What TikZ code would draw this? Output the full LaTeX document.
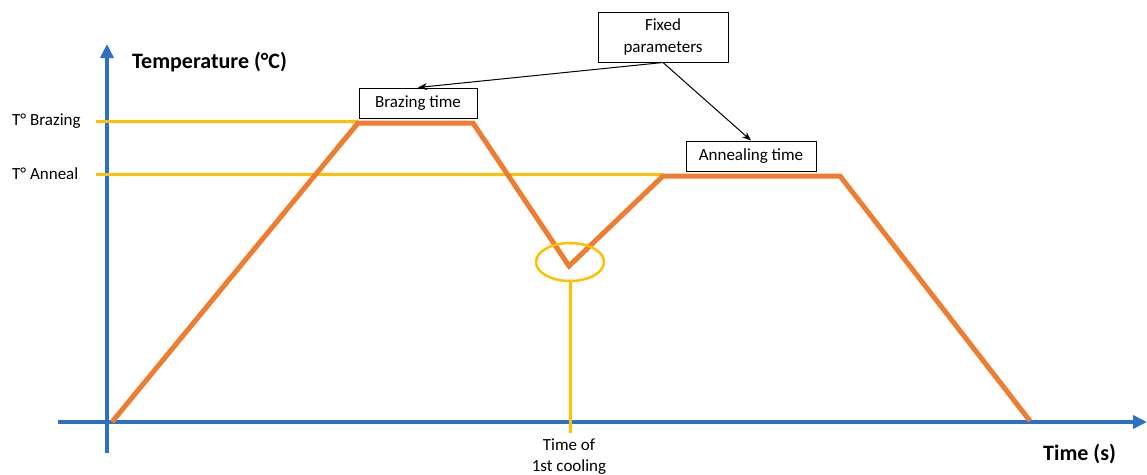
\documentclass[tikz,border=0pt]{standalone}
\usepackage{fontspec}
\setmainfont{Carlito}
\usetikzlibrary{arrows.meta,shapes.geometric}
\definecolor{axisblue}{RGB}{46,112,196}
\definecolor{curveorange}{RGB}{237,125,49}
\definecolor{markyellow}{RGB}{255,192,0}
\tikzset{
  axisline/.style={draw=axisblue, line width=4pt, -{Triangle[length=14pt,width=13pt]}},
  refline/.style={draw=markyellow, line width=3pt},
  curve/.style={draw=curveorange, line width=5pt, line join=miter},
  lbl/.style={font=\fontsize{17}{21}\selectfont, inner sep=0pt},
  axlbl/.style={font=\fontsize{22}{26}\selectfont\bfseries, inner sep=0pt},
  parbox/.style={draw=black, line width=1pt, font=\fontsize{17}{22}\selectfont, inner sep=0pt, align=center},
  callout/.style={draw=black, line width=1pt, -{Stealth[length=9pt,width=7pt]}}
}
\begin{document}
\begin{tikzpicture}[x=1pt,y=-1pt]
\useasboundingbox (0,0) rectangle (1147,474);
% axes
\coordinate (ybot) at (107,453);
\coordinate (ytop) at (107,44);
\coordinate (xleft) at (58,422);
\coordinate (xright) at (1147,422);
\draw[axisline] (ybot) -- (ytop);
\draw[axisline] (xleft) -- (xright);
% curve points
\coordinate (p0) at (112,422);
\coordinate (p1) at (358,123);
\coordinate (p2) at (473,123);
\coordinate (p3) at (569,266);
\coordinate (p4) at (663,176);
\coordinate (p5) at (840,176);
\coordinate (p6) at (1030,421);
% reference lines
\coordinate (tb0) at (96,121);
\coordinate (ta0) at (96,174);
\draw[refline] (tb0) -- (p1 |- tb0);
\draw[refline] (ta0) -- (p4 |- ta0);
% curve
\draw[curve] (p0) -- (p1) -- (p2) -- (p3) -- (p4) -- (p5) -- (p6);
% circle marker
\node[draw=markyellow, line width=2.5pt, ellipse, minimum width=68pt, minimum height=38pt, inner sep=0pt] (mk) at (570,262) {};
\coordinate (cb) at (570,433);
\draw[refline] (mk.south) -- (cb);
% labels
\node[lbl, anchor=west] (lb) at (12,121) {T° Brazing};
\node[lbl, anchor=west] (la) at (12,174) {T° Anneal};
\node[axlbl, anchor=west] (ty) at (132,62) {Temperature (°C)};
\node[axlbl, anchor=west] (tx) at (1043,454) {Time (s)};
\node[lbl, align=center, anchor=north] (tc) at (569,439) {Time of\\1st cooling};
% boxes
\node[parbox, minimum width=130pt, minimum height=50pt] (fp) at (663,37) {Fixed\\parameters};
\node[parbox, minimum width=118pt, minimum height=30pt] (bt) at (418,103) {Brazing time};
\node[parbox, minimum width=130pt, minimum height=30pt] (at) at (751,156) {Annealing time};
\draw[callout] (fp.south) -- (bt.north);
\draw[callout] (fp.south) -- (at.north);
\end{tikzpicture}
\end{document}
